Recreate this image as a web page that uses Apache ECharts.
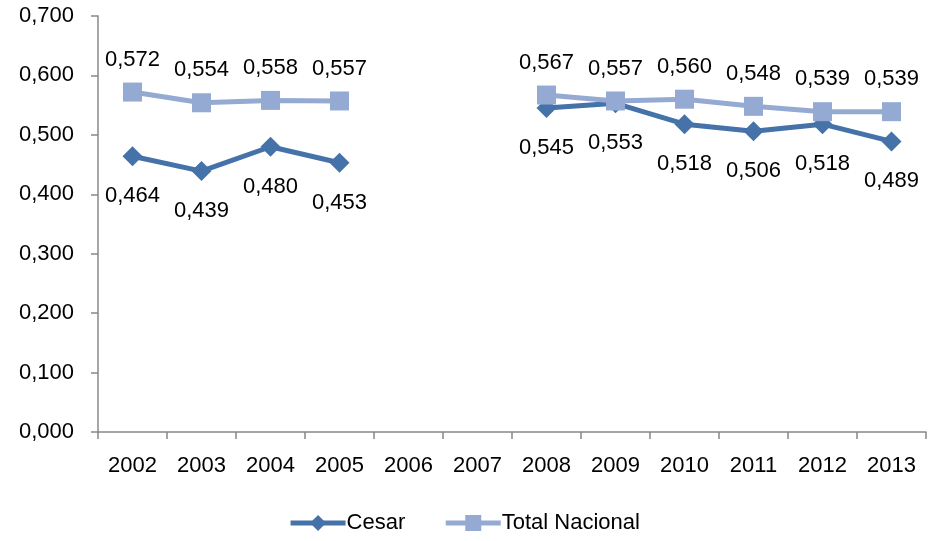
<!DOCTYPE html>
<html><head><meta charset="utf-8">
<script src="https://cdn.jsdelivr.net/npm/echarts@6/dist/echarts.min.js"></script>
<style>html,body{margin:0;padding:0;background:#fff}#c{width:928px;height:541px}</style>
</head><body><div id="c"></div>
<script>
const categories = ['2002','2003','2004','2005','2006','2007','2008','2009','2010','2011','2012','2013'];
const cesar = [0.464,0.439,0.480,0.453,null,null,0.545,0.553,0.518,0.506,0.518,0.489];
const totalNacional = [0.572,0.554,0.558,0.557,null,null,0.567,0.557,0.560,0.548,0.539,0.539];
const seriesNames = ['Cesar','Total Nacional'];
const FONT = '"Liberation Sans", Arial, sans-serif';
const fmt = v => v.toFixed(3).replace('.', ',');
const chart = echarts.init(document.getElementById('c'), null, {renderer:'canvas'});
chart.setOption({
  animation:false,
  textStyle:{fontFamily:FONT},
  grid:{left:98,right:2,top:16,bottom:109,containLabel:false},
  legend:{bottom:2,left:'center',itemWidth:55,itemHeight:20,itemGap:38,
    lineStyle:{width:5},
    textStyle:{fontSize:22,color:'#000',fontFamily:FONT,padding:[0,0,0,-4]},
    data:seriesNames},
  xAxis:{type:'category',data:categories,boundaryGap:true,
    axisLine:{lineStyle:{color:'#888',width:1.5}},
    axisTick:{show:true,alignWithLabel:false,length:7,lineStyle:{color:'#888',width:1.5}},
    axisLabel:{fontSize:22,color:'#000',margin:23,fontFamily:FONT},
    splitLine:{show:false}},
  yAxis:{type:'value',min:0,max:0.7,interval:0.1,
    axisLine:{show:true,lineStyle:{color:'#888',width:1.5}},
    axisTick:{show:true,length:7,lineStyle:{color:'#888',width:1.5}},
    axisLabel:{fontSize:22,color:'#000',margin:24,fontFamily:FONT,formatter:v=>fmt(v)},
    splitLine:{show:false}},
  series:[
    {name:'Cesar',type:'line',data:cesar,connectNulls:false,
     symbol:'diamond',symbolSize:20,
     lineStyle:{color:'#4572A8',width:5},itemStyle:{color:'#4572A8'},
     label:{show:true,position:'bottom',distance:19,fontSize:22,color:'#000',fontFamily:FONT,
       formatter:p=>fmt(p.value)},z:2},
    {name:'Total Nacional',type:'line',data:totalNacional,connectNulls:false,
     symbol:'rect',symbolSize:19,
     lineStyle:{color:'#95AAD3',width:5},itemStyle:{color:'#95AAD3'},
     label:{show:true,position:'top',distance:12,fontSize:22,color:'#000',fontFamily:FONT,
       formatter:p=>fmt(p.value)},z:3}
  ]
});
</script></body></html>
